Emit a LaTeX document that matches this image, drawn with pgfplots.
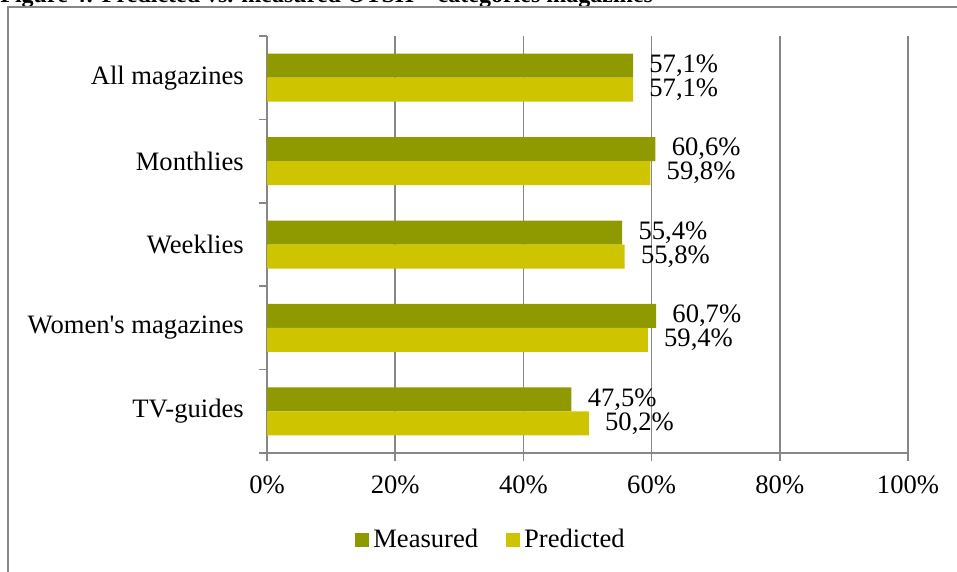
\documentclass[border=0pt]{standalone}
\usepackage{pgfplots}
\pgfplotsset{compat=1.18}
\usepackage{fontspec}
\setmainfont{Liberation Serif}
\definecolor{meas}{HTML}{8F9A00}
\definecolor{pred}{HTML}{CFC400}
\definecolor{gr}{HTML}{878787}
\begin{document}
\fontsize{13.3}{16}\selectfont
\begin{tikzpicture}[font=\fontsize{13.3}{16}\selectfont]
\useasboundingbox (0pt,0pt) rectangle (478.5pt,-286pt);
\node[anchor=base west, font=\fontsize{12}{14.4}\selectfont\bfseries, inner sep=0pt] at (0pt,-1.5pt) {Figure 4: Predicted vs. measured OTSH – categories magazines};
\draw[gr, line width=0.75pt] (4pt,-290pt) -- (4pt,-3.5pt) -- (480pt,-3.5pt);
\begin{axis}[
  at={(133.5pt,-226.5pt)}, anchor=south west,
  width=320.5pt, height=208.5pt, scale only axis,
  xbar, bar width=12pt,
  xmin=0, xmax=100, ymin=-0.5, ymax=4.5,
  axis x line*=bottom, axis y line*=left,
  axis line style={gr, line width=0.75pt},
  xtick={0,20,40,60,80,100},
  xticklabels={0\%,20\%,40\%,60\%,80\%,100\%},
  xmajorgrids, grid style={gr, line width=0.75pt},
  ytick={0,1,2,3,4},
  yticklabels={TV-guides, Women\textquotesingle s magazines, Weeklies, Monthlies, All magazines},
  minor ytick={-0.5,0.5,1.5,2.5,3.5,4.5},
  every major y tick/.append style={draw=none},
  tick align=outside, major tick length=4pt, minor tick length=4pt,
  tick style={gr, line width=0.75pt},
  every tick label/.append style={font=\fontsize{13.3}{16}\selectfont},
  xticklabel style={yshift=-3pt},
  yticklabel style={xshift=-3pt},
  point meta=x,
  nodes near coords={\pgfmathprintnumber[fixed,zerofill,precision=1,use comma,assume math mode=true]{\pgfplotspointmeta}\%},
  nodes near coords align=horizontal,
  every node near coord/.append style={anchor=west, inner sep=0pt, xshift=8pt, font=\fontsize{13.3}{16}\selectfont, text=black},
  legend columns=2,
  legend style={draw=none, at={(0.351,-0.209)}, anchor=center, font=\fontsize{13.3}{16}\selectfont,
    /tikz/every even column/.append style={column sep=12pt}},
  legend image code/.code={\fill[#1] (0pt,-3.5pt) rectangle (7pt,3.5pt);},
  clip=false,
]
\addplot[fill=meas, draw=none, bar shift=6pt] coordinates {(47.5,0) (60.7,1) (55.4,2) (60.6,3) (57.1,4)};
\addplot[fill=pred, draw=none, bar shift=-6pt] coordinates {(50.2,0) (59.4,1) (55.8,2) (59.8,3) (57.1,4)};
\legend{Measured, Predicted}
\end{axis}
\end{tikzpicture}
\end{document}
